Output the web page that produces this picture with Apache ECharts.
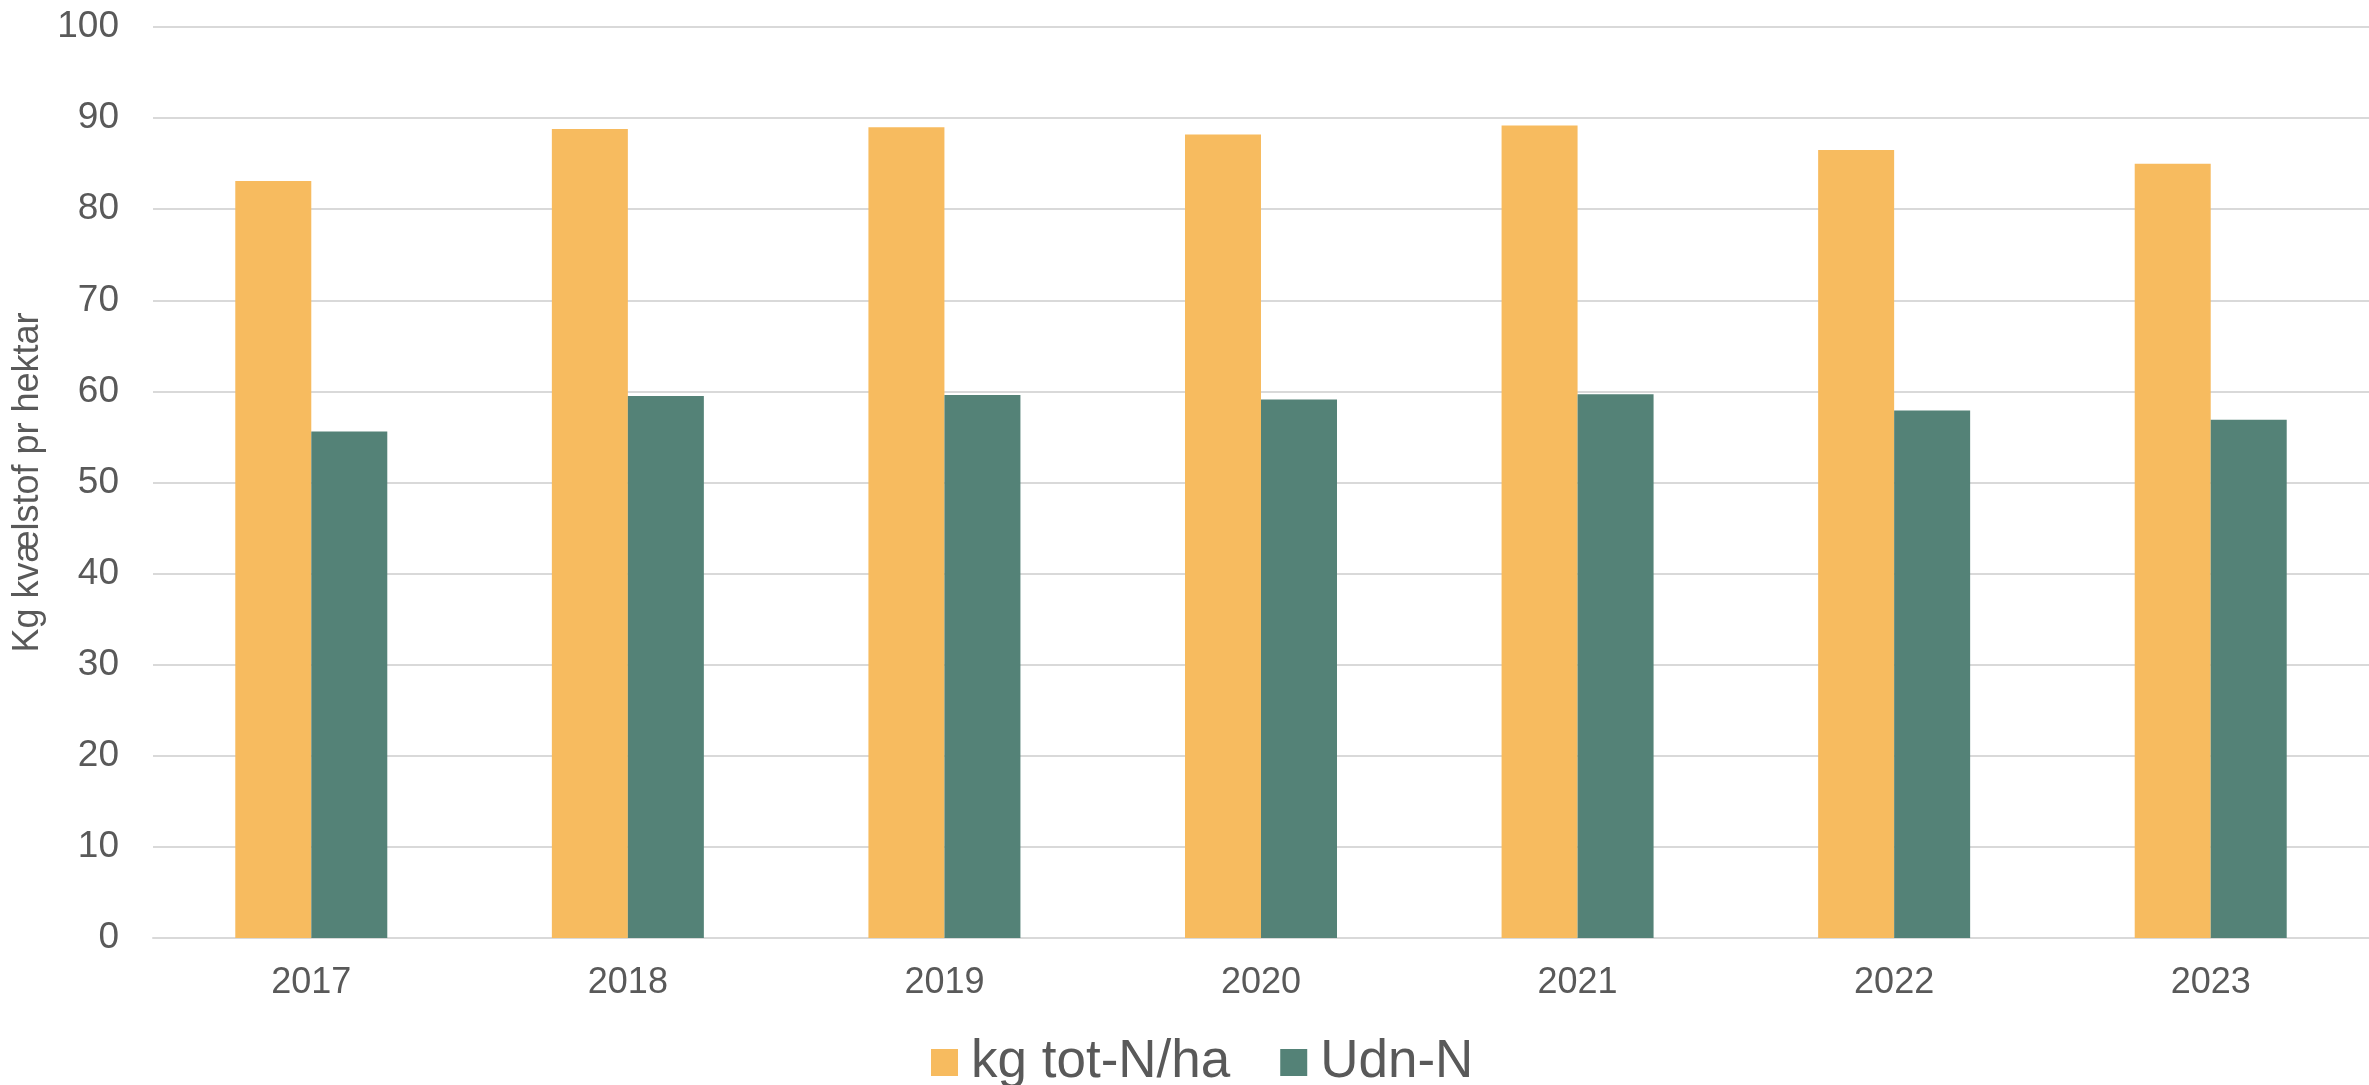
<!DOCTYPE html>
<html>
<head>
<meta charset="utf-8">
<script src="https://cdn.jsdelivr.net/npm/echarts@6/dist/echarts.min.js"></script>
<style>
html,body{margin:0;padding:0;background:#fff;}
#chart{width:2369px;height:1085px;}
</style>
</head>
<body>
<div id="chart"></div>
<script>
const years = ['2017','2018','2019','2020','2021','2022','2023'];
const totN = [83.1, 88.8, 89.0, 88.2, 89.2, 86.5, 85.0];
const udnN = [55.6, 59.5, 59.6, 59.1, 59.7, 57.9, 56.9];
const seriesNames = ['kg tot-N/ha', 'Udn-N'];
const yAxisName = 'Kg kvælstof pr hektar';

const font = "'Liberation Sans', Arial, sans-serif";
const textColor = '#595959';

const chart = echarts.init(document.getElementById('chart'), null, {renderer: 'canvas'});
chart.setOption({
  animation: false,
  backgroundColor: '#ffffff',
  grid: {left: 153, top: 27, width: 2226, height: 911, containLabel: false},
  legend: {
    left: 926, top: 1031,
    itemWidth: 27, itemHeight: 27, itemGap: 50,
    icon: 'rect',
    data: seriesNames,
    textStyle: {fontFamily: font, fontSize: 53, color: textColor, padding: [0,0,0,8]}
  },
  xAxis: {
    type: 'category',
    data: years,
    axisLine: {lineStyle: {color: '#d9d9d9', width: 2}},
    axisTick: {show: false},
    axisLabel: {fontFamily: font, fontSize: 36, color: textColor, margin: 27}
  },
  yAxis: {
    type: 'value',
    min: 0, max: 100, interval: 10,
    name: yAxisName,
    nameLocation: 'middle',
    nameGap: 98,
    nameTextStyle: {fontFamily: font, fontSize: 36, color: textColor},
    axisLine: {show: false},
    axisTick: {show: false},
    splitLine: {lineStyle: {color: '#d9d9d9', width: 2}},
    axisLabel: {fontFamily: font, fontSize: 37, color: textColor, margin: 34}
  },
  series: [
    {name: seriesNames[0], type: 'bar', data: totN, barWidth: 76, barGap: '0%',
     itemStyle: {color: '#F7BB5F'}},
    {name: seriesNames[1], type: 'bar', data: udnN, barWidth: 76, barGap: '0%',
     itemStyle: {color: '#548277'}}
  ]
});
</script>
</body>
</html>
